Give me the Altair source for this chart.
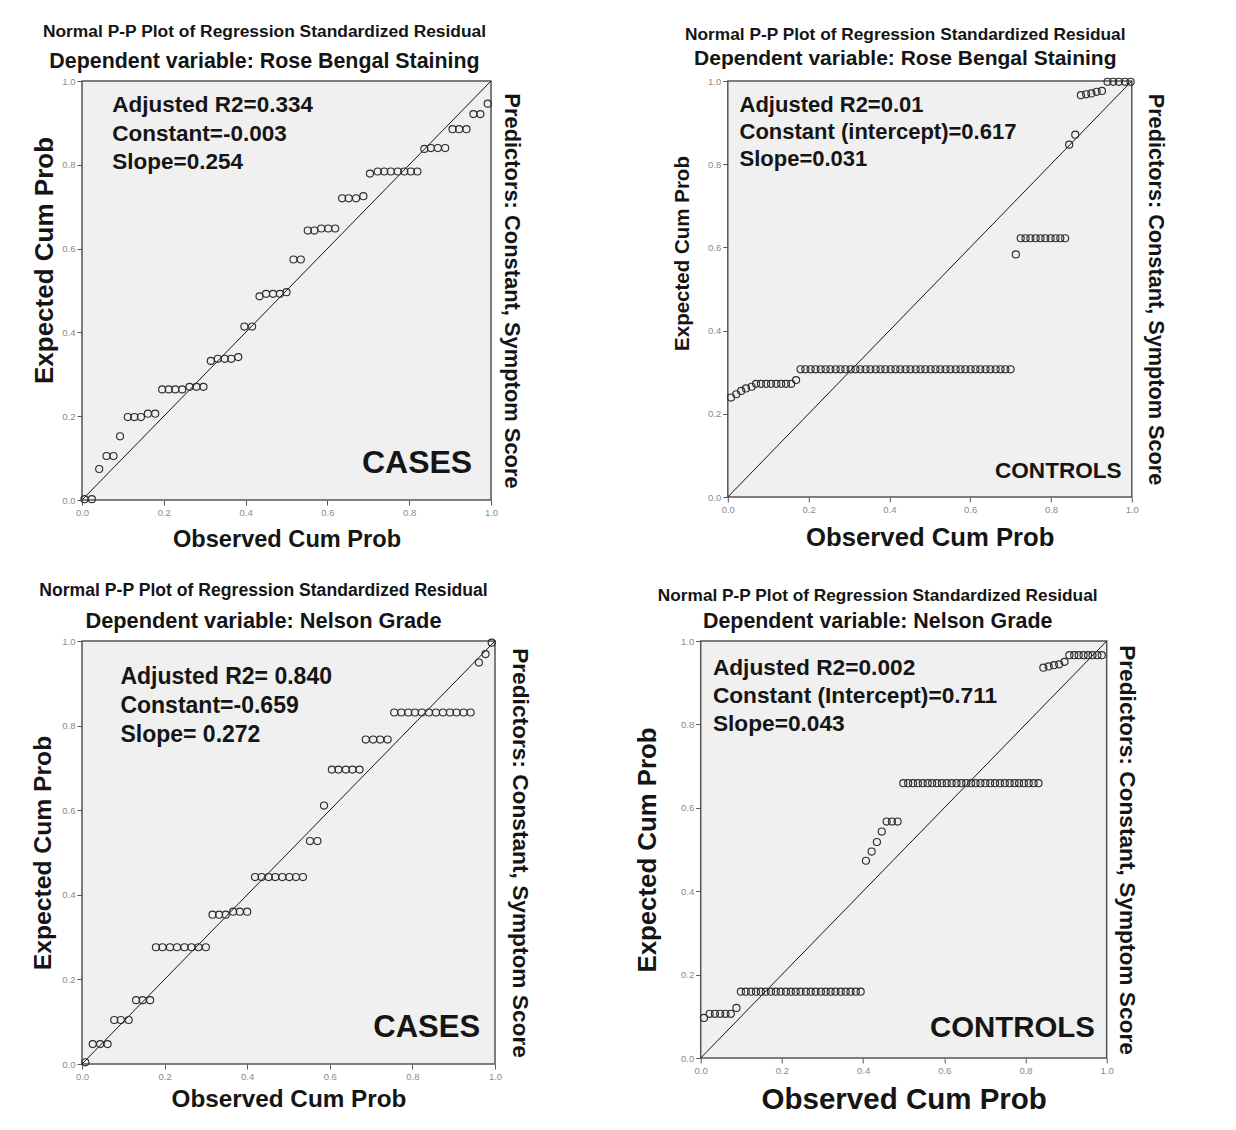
import altair as alt
import pandas as pd

TICKS = [0.0, 0.2, 0.4, 0.6, 0.8, 1.0]
MAIN_TITLE = "Normal P-P Plot of Regression Standardized Residual"
X_TITLE = "Observed Cum Prob"
Y_TITLE = "Expected Cum Prob"
RIGHT_TITLE = "Predictors: Constant, Symptom Score"

# ---- Top-left: Rose Bengal Staining, CASES ----
rb_cases_obs = [0.006, 0.024, 0.042, 0.060, 0.077, 0.093, 0.112, 0.128, 0.144, 0.161,
                0.179, 0.196, 0.212, 0.228, 0.245, 0.263, 0.280, 0.297, 0.315, 0.332,
                0.349, 0.365, 0.382, 0.397, 0.416, 0.434, 0.450, 0.467, 0.484, 0.500,
                0.517, 0.535, 0.552, 0.568, 0.585, 0.602, 0.619, 0.636, 0.652, 0.670,
                0.688, 0.704, 0.723, 0.739, 0.755, 0.772, 0.788, 0.804, 0.820, 0.837,
                0.853, 0.870, 0.888, 0.906, 0.922, 0.940, 0.957, 0.974, 0.992]
rb_cases_exp = [0.002, 0.002, 0.074, 0.105, 0.105, 0.152, 0.198, 0.198, 0.198, 0.206,
                0.206, 0.264, 0.264, 0.264, 0.264, 0.270, 0.270, 0.270, 0.332, 0.337,
                0.337, 0.337, 0.341, 0.414, 0.414, 0.486, 0.492, 0.492, 0.492, 0.496,
                0.574, 0.574, 0.643, 0.643, 0.648, 0.648, 0.648, 0.720, 0.720, 0.720,
                0.725, 0.779, 0.784, 0.784, 0.784, 0.784, 0.784, 0.784, 0.784, 0.838,
                0.840, 0.840, 0.840, 0.885, 0.885, 0.885, 0.921, 0.921, 0.946]
rb_cases_notes = ["Adjusted R2=0.334", "Constant=-0.003", "Slope=0.254"]

# ---- Top-right: Rose Bengal Staining, CONTROLS ----
rb_ctrl_obs = [0.008, 0.021, 0.033, 0.045, 0.059,
               0.070, 0.082, 0.095, 0.107, 0.120, 0.132, 0.144, 0.157,
               0.169,
               0.180, 0.192, 0.205, 0.217, 0.230, 0.242, 0.254, 0.267, 0.279, 0.291,
               0.304, 0.316, 0.328, 0.341, 0.353, 0.366, 0.378, 0.390, 0.403, 0.415,
               0.427, 0.440, 0.452, 0.465, 0.477, 0.489, 0.502, 0.514, 0.526, 0.539,
               0.551, 0.564, 0.576, 0.588, 0.601, 0.613, 0.625, 0.638, 0.650, 0.663,
               0.675, 0.687, 0.700,
               0.713,
               0.725, 0.737, 0.749, 0.762, 0.774, 0.786, 0.799, 0.811, 0.823, 0.835,
               0.845, 0.860,
               0.874, 0.887, 0.900, 0.913, 0.926,
               0.940, 0.954, 0.968, 0.983, 0.997]
rb_ctrl_exp = [0.239, 0.247, 0.255, 0.261, 0.265,
               0.272, 0.272, 0.272, 0.272, 0.272, 0.272, 0.272, 0.272,
               0.281,
               0.307, 0.307, 0.307, 0.307, 0.307, 0.307, 0.307, 0.307, 0.307, 0.307,
               0.307, 0.307, 0.307, 0.307, 0.307, 0.307, 0.307, 0.307, 0.307, 0.307,
               0.307, 0.307, 0.307, 0.307, 0.307, 0.307, 0.307, 0.307, 0.307, 0.307,
               0.307, 0.307, 0.307, 0.307, 0.307, 0.307, 0.307, 0.307, 0.307, 0.307,
               0.307, 0.307, 0.307,
               0.583,
               0.622, 0.622, 0.622, 0.622, 0.622, 0.622, 0.622, 0.622, 0.622, 0.622,
               0.847, 0.871,
               0.966, 0.968, 0.970, 0.974, 0.976,
               0.998, 0.998, 0.998, 0.998, 0.998]
rb_ctrl_notes = ["Adjusted R2=0.01", "Constant (intercept)=0.617", "Slope=0.031"]

# ---- Bottom-left: Nelson Grade, CASES ----
ng_cases_obs = [0.008,
                0.026, 0.044, 0.062,
                0.078, 0.094, 0.113,
                0.131, 0.147, 0.165,
                0.179, 0.195, 0.213, 0.230, 0.248, 0.265, 0.282, 0.300,
                0.316, 0.332, 0.348, 0.366, 0.382, 0.400,
                0.419, 0.435, 0.452, 0.468, 0.485, 0.502, 0.518, 0.535,
                0.552, 0.570,
                0.586,
                0.605, 0.621, 0.639, 0.655, 0.672,
                0.687, 0.705, 0.722, 0.740,
                0.756, 0.773, 0.790, 0.806, 0.823, 0.840, 0.857, 0.874, 0.891, 0.907,
                0.924, 0.941,
                0.961, 0.977, 0.992]
ng_cases_exp = [0.004,
                0.047, 0.047, 0.047,
                0.104, 0.104, 0.104,
                0.151, 0.151, 0.151,
                0.276, 0.276, 0.276, 0.276, 0.276, 0.276, 0.276, 0.276,
                0.353, 0.353, 0.353, 0.360, 0.360, 0.360,
                0.442, 0.442, 0.442, 0.442, 0.442, 0.442, 0.442, 0.442,
                0.527, 0.527,
                0.611,
                0.696, 0.696, 0.696, 0.696, 0.696,
                0.767, 0.767, 0.767, 0.767,
                0.831, 0.831, 0.831, 0.831, 0.831, 0.831, 0.831, 0.831, 0.831, 0.831,
                0.831, 0.831,
                0.949, 0.969, 0.996]
ng_cases_notes = ["Adjusted R2= 0.840", "Constant=-0.659", "Slope= 0.272"]

# ---- Bottom-right: Nelson Grade, CONTROLS ----
ng_ctrl_obs = [0.008,
               0.022, 0.035, 0.048, 0.061, 0.074,
               0.088,
               0.099, 0.111, 0.124, 0.136, 0.148, 0.160, 0.173, 0.185, 0.197, 0.210,
               0.222, 0.234, 0.246, 0.259, 0.271, 0.283, 0.296, 0.308, 0.320, 0.332,
               0.345, 0.357, 0.369, 0.382, 0.394,
               0.407, 0.421, 0.434, 0.446,
               0.458, 0.471, 0.485,
               0.499, 0.511, 0.523, 0.535, 0.547, 0.559, 0.570, 0.582, 0.594, 0.606,
               0.618, 0.630, 0.642, 0.654, 0.666, 0.677, 0.689, 0.701, 0.713, 0.725,
               0.737, 0.749, 0.761, 0.773, 0.784, 0.796, 0.808, 0.820, 0.832,
               0.844, 0.857, 0.870, 0.883, 0.896,
               0.908, 0.920, 0.931, 0.943, 0.954, 0.965, 0.977, 0.988]
ng_ctrl_exp = [0.096,
               0.106, 0.106, 0.106, 0.106, 0.106,
               0.120,
               0.159, 0.159, 0.159, 0.159, 0.159, 0.159, 0.159, 0.159, 0.159, 0.159,
               0.159, 0.159, 0.159, 0.159, 0.159, 0.159, 0.159, 0.159, 0.159, 0.159,
               0.159, 0.159, 0.159, 0.159, 0.159,
               0.473, 0.495, 0.518, 0.543,
               0.567, 0.567, 0.567,
               0.659, 0.659, 0.659, 0.659, 0.659, 0.659, 0.659, 0.659, 0.659, 0.659,
               0.659, 0.659, 0.659, 0.659, 0.659, 0.659, 0.659, 0.659, 0.659, 0.659,
               0.659, 0.659, 0.659, 0.659, 0.659, 0.659, 0.659, 0.659, 0.659,
               0.936, 0.939, 0.942, 0.944, 0.950,
               0.966, 0.966, 0.966, 0.966, 0.966, 0.966, 0.966, 0.966]
ng_ctrl_notes = ["Adjusted R2=0.002", "Constant (Intercept)=0.711", "Slope=0.043"]

FONT = "Liberation Sans, Arial, Helvetica, sans-serif"
INK = "#151515"


def panel(obs, exp, dep, notes, group, s):
    df = pd.DataFrame({"obs": obs, "exp": exp})
    diag = pd.DataFrame({"obs": [0.0, 1.0], "exp": [0.0, 1.0]})
    one = pd.DataFrame({"k": [0]})
    xs = alt.Scale(domain=[0, 1], nice=False, zero=False)
    ys = alt.Scale(domain=[0, 1], nice=False, zero=False)
    yargs = dict(values=TICKS, format=".1f", title=Y_TITLE,
                 titleFontSize=s["yfs"], titlePadding=s["ytp"])
    if "yty" in s:
        yargs["titleY"] = s["yty"]
    xa = alt.Axis(values=TICKS, format=".1f", title=X_TITLE,
                  titleFontSize=s["xfs"], titlePadding=s["xtp"])
    ya = alt.Axis(**yargs)
    ex = alt.X("obs:Q", scale=xs, axis=xa)
    ey = alt.Y("exp:Q", scale=ys, axis=ya)

    line = alt.Chart(diag).mark_line(color=INK, strokeWidth=1).encode(x=ex, y=ey)
    pts = alt.Chart(df).mark_point(shape="circle", filled=False, size=50,
                                   color="#2e2e2e", strokeWidth=1.15,
                                   opacity=1).encode(x=ex, y=ey)
    txt = alt.Chart(one).mark_text(align="left", baseline="alphabetic", font=FONT,
                                   fontWeight="bold", fontSize=s["nfs"],
                                   lineHeight=s["nlh"], color=INK).encode(
        x=alt.datum(s["nx"]), y=alt.datum(s["ny"]), text=alt.value(notes))
    grp = alt.Chart(one).mark_text(align="right", baseline="middle", font=FONT,
                                   fontWeight="bold", fontSize=s["gfs"],
                                   color=INK).encode(
        x=alt.datum(s["gx"]), y=alt.datum(s["gy"]), text=alt.value(group))
    inner = alt.layer(line, pts, txt, grp)
    right = alt.Chart(diag).mark_point(opacity=0).encode(
        y=alt.Y("exp:Q", scale=ys,
                axis=alt.Axis(orient="right", title=RIGHT_TITLE, labels=False,
                              ticks=False, domain=False, grid=False,
                              titleFontSize=s["rfs"], titlePadding=s["rtp"],
                              titleAngle=90)))
    return alt.layer(inner, right).resolve_axis(y="independent").properties(
        width=s["w"], height=s["h"],
        title=alt.TitleParams(
            text=MAIN_TITLE, subtitle=dep, anchor="middle", dx=s["tdx"],
            font=FONT, subtitleFont=FONT, fontWeight="bold",
            subtitleFontWeight="bold", fontSize=s["tfs"],
            subtitleFontSize=s["sfs"], subtitlePadding=s["sp"],
            offset=s["off"], color=INK, subtitleColor=INK))


tl = panel(rb_cases_obs, rb_cases_exp, "Dependent variable: Rose Bengal Staining",
           rb_cases_notes, "CASES",
           dict(w=409, h=419, tfs=17.4, sfs=21.4, sp=11.4, off=3.3, tdx=-22,
                yfs=26, ytp=4.5, yty=179, xfs=23.6, xtp=10.5, rfs=21.9, rtp=8,
                nfs=22.5, nlh=28.5, nx=0.074, ny=0.926,
                gfs=32, gx=0.954, gy=0.088))
tr = panel(rb_ctrl_obs, rb_ctrl_exp, "Dependent variable: Rose Bengal Staining",
           rb_ctrl_notes, "CONTROLS",
           dict(w=404, h=416, tfs=17.3, sfs=21.0, sp=4.7, off=7.2, tdx=-24.5,
                yfs=20.5, ytp=15.5, yty=172, xfs=25.7, xtp=11.9, rfs=21.7, rtp=12,
                nfs=22, nlh=27, nx=0.029, ny=0.926,
                gfs=22.6, gx=0.975, gy=0.063))
bl = panel(ng_cases_obs, ng_cases_exp, "Dependent variable: Nelson Grade",
           ng_cases_notes, "CASES",
           dict(w=413, h=423, tfs=17.6, sfs=21.8, sp=12.1, off=2.8, tdx=-25,
                yfs=24.7, ytp=5.8, xfs=24.3, xtp=7, rfs=22.7, rtp=12,
                nfs=23, nlh=29, nx=0.093, ny=0.898,
                gfs=31, gx=0.964, gy=0.085))
br = panel(ng_ctrl_obs, ng_ctrl_exp, "Dependent variable: Nelson Grade",
           ng_ctrl_notes, "CONTROLS",
           dict(w=406, h=417, tfs=17.25, sfs=21.4, sp=6.5, off=3.4, tdx=-26,
                yfs=25.8, ytp=19.5, xfs=29.5, xtp=11, rfs=22.7, rtp=8,
                nfs=22.7, nlh=28, nx=0.030, ny=0.918,
                gfs=29.4, gx=0.971, gy=0.072))

row1 = alt.hconcat(tl, tr, spacing=147.8)
row2 = alt.hconcat(bl, br, spacing=102.7)

chart = alt.vconcat(row1, row2, spacing=28).properties(
    padding={"left": 22, "top": 13, "right": 5, "bottom": 5}
).configure(background="white").configure_view(
    fill="#f0f0f0", stroke="#555555", strokeWidth=1.5
).configure_axis(
    grid=False, domain=False, tickColor="#555555", tickSize=5, tickWidth=1,
    labelFont=FONT, labelFontSize=9.5, labelColor="#8a8a8a", labelPadding=2,
    labelFlush=False, labelOverlap=False,
    titleFont=FONT, titleFontWeight="bold", titleColor=INK
)

chart.save("out.html", embed_options={"renderer": "svg", "actions": False})
